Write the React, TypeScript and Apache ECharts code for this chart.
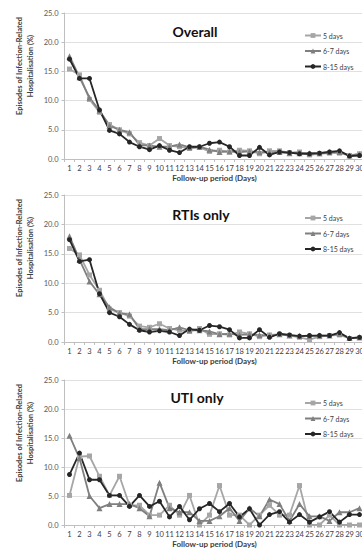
import React, { useEffect, useRef } from "react";
import * as echarts from "echarts";

const days = Array.from({ length: 30 }, (_, i) => String(i + 1));
const panelTitles = ["Overall", "RTIs only", "UTI only"];
const seriesNames = ["5 days", "6-7 days", "8-15 days"];
const yTicks = [0, 5, 10, 15, 20, 25];

const overall5 = [15.4, 14.4, 10.2, 8.0, 5.9, 5.0, 4.3, 2.8, 2.3, 3.5, 2.3, 2.1, 1.8, 2.0, 1.3, 1.5, 1.2, 1.5, 1.4, 0.9, 1.4, 1.4, 1.1, 1.2, 0.7, 0.9, 1.0, 1.0, 0.6, 0.9];
const overall67 = [17.6, 14.0, 10.5, 8.3, 5.7, 5.0, 4.6, 2.4, 2.3, 2.1, 2.1, 2.5, 2.0, 2.1, 1.6, 1.2, 1.3, 1.2, 1.3, 1.2, 1.1, 1.2, 1.0, 1.0, 1.0, 1.0, 1.2, 1.2, 0.6, 0.8];
const overall815 = [17.1, 13.8, 13.8, 8.4, 4.9, 4.3, 2.9, 2.1, 1.6, 2.3, 1.5, 1.1, 2.1, 2.1, 2.7, 2.9, 2.1, 0.6, 0.6, 2.0, 0.7, 1.2, 1.1, 0.9, 0.9, 1.0, 1.2, 1.4, 0.5, 0.6];

const rti5 = [15.9, 14.8, 11.4, 8.8, 5.6, 5.0, 4.4, 2.7, 2.5, 3.1, 2.3, 2.0, 1.8, 2.3, 1.3, 1.4, 1.2, 1.7, 1.4, 0.9, 1.2, 1.3, 1.1, 0.8, 0.4, 0.9, 1.1, 1.2, 0.6, 0.7];
const rti67 = [18.0, 14.0, 10.3, 8.1, 5.9, 4.9, 4.7, 2.2, 2.2, 2.2, 2.0, 2.5, 2.0, 2.0, 1.8, 1.3, 1.4, 1.2, 1.3, 1.2, 1.1, 1.3, 1.1, 1.0, 1.0, 1.1, 1.1, 1.4, 0.7, 0.8];
const rti815 = [17.4, 13.7, 14.0, 8.2, 5.0, 4.3, 3.0, 2.0, 1.7, 1.9, 1.7, 1.1, 2.2, 2.0, 2.8, 2.6, 2.1, 0.7, 0.7, 2.1, 0.8, 1.4, 1.2, 1.0, 1.1, 1.1, 1.1, 1.6, 0.6, 0.8];

const uti5 = [5.1, 11.8, 11.9, 8.4, 5.1, 8.4, 3.4, 3.4, 1.7, 1.7, 3.4, 1.7, 5.1, 0.0, 1.7, 6.8, 1.7, 1.7, 0.0, 1.7, 3.4, 1.7, 1.7, 6.8, 0.0, 0.0, 1.7, 0.0, 0.0, 0.0];
const uti67 = [15.4, 11.5, 5.0, 2.9, 3.6, 3.6, 3.6, 2.9, 1.5, 7.3, 2.9, 2.2, 2.2, 0.7, 0.7, 1.5, 2.9, 0.7, 2.9, 1.5, 4.4, 3.6, 0.7, 3.6, 1.5, 1.5, 0.7, 2.2, 2.2, 2.9];
const uti815 = [8.7, 12.4, 7.8, 7.8, 5.1, 5.1, 3.2, 5.1, 3.2, 4.1, 1.4, 3.2, 0.9, 2.8, 3.7, 2.3, 3.7, 1.4, 2.8, 0.0, 1.8, 2.3, 0.5, 1.8, 0.5, 1.4, 2.3, 0.5, 1.8, 1.8];

const panelData = [
  [overall5, overall67, overall815],
  [rti5, rti67, rti815],
  [uti5, uti67, uti815],
];

const FONT = "Lato, 'Open Sans', sans-serif";
const colors = ["#a6a6a6", "#7f7f7f", "#262626"];
const symbols = ["rect", "triangle", "circle"];
const symbolSizes = [5, 6, 5];

const gridTops = [13, 195, 380];
const gridHeights = [146, 147, 145];
const titlePos = [
  [195, 31],
  [201, 214],
  [197, 397],
];
const legendTops = [31, 213.5, 398.5];
const yTitleCenters = [66, 248, 433];

export default function App() {
  const ref = useRef<HTMLDivElement>(null);
  useEffect(() => {
    if (!ref.current) return;
    const chart = echarts.init(ref.current, undefined, { renderer: "svg" });
    const axisColor = "#bfbfbf";
    const grid = gridTops.map((t, i) => ({
      left: 64.5,
      top: t,
      width: 300,
      height: gridHeights[i],
      outerBoundsMode: "none",
    }));
    const xAxis = gridTops.map((_, i) => ({
      type: "category",
      gridIndex: i,
      data: days,
      boundaryGap: true,
      axisLine: { lineStyle: { color: axisColor } },
      axisTick: { show: true, length: 3, interval: 0, lineStyle: { color: axisColor } },
      axisLabel: { interval: 0, fontSize: 7.5, color: "#404040", margin: 5, fontFamily: FONT },
      name: "Follow-up period (Days)",
      nameLocation: "middle",
      nameGap: 15,
      nameTextStyle: { fontWeight: "bold", fontSize: 8, color: "#404040", fontFamily: FONT },
    }));
    const yAxis = gridTops.map((_, i) => ({
      type: "value",
      gridIndex: i,
      min: yTicks[0],
      max: yTicks[yTicks.length - 1],
      interval: 5,
      axisLine: { show: true, lineStyle: { color: axisColor } },
      axisTick: { show: true, length: 3, lineStyle: { color: axisColor } },
      axisLabel: {
        formatter: (v: number) => v.toFixed(1),
        fontSize: 7.5,
        color: "#595959",
        margin: 6,
        fontFamily: FONT,
      },
      splitLine: { lineStyle: { color: "#e0e0e0" } },
    }));
    const series: any[] = [];
    panelData.forEach((arrs, p) => {
      arrs.forEach((arr, s) => {
        series.push({
          type: "line",
          name: seriesNames[s],
          xAxisIndex: p,
          yAxisIndex: p,
          data: arr,
          symbol: symbols[s],
          symbolSize: symbolSizes[s],
          showSymbol: true,
          lineStyle: { color: colors[s], width: 1.8 },
          itemStyle: { color: colors[s] },
        });
      });
    });
    const legend = legendTops.map((t) => ({
      left: 304,
      top: t,
      orient: "vertical",
      padding: 0,
      itemWidth: 16,
      itemHeight: 6,
      itemGap: 6.5,
      data: seriesNames,
      selectedMode: false,
      textStyle: { fontSize: 7, color: "#404040", fontFamily: FONT, lineHeight: 9, padding: [0, 0, 0, -3] },
    }));
    const graphic: any[] = [];
    panelTitles.forEach((t, i) => {
      graphic.push({
        type: "text",
        x: titlePos[i][0],
        y: titlePos[i][1],
        style: {
          text: t,
          fontSize: 14,
          fontWeight: "bold",
          fontFamily: FONT,
          fill: "#111",
          align: "center",
          verticalAlign: "middle",
        },
      });
      graphic.push({
        type: "text",
        x: 19,
        y: yTitleCenters[i],
        rotation: Math.PI / 2,
        style: {
          text: "Episodes of Infection-Related",
          fontSize: 7.5,
          fontWeight: "bold",
          fontFamily: FONT,
          fill: "#404040",
          align: "center",
          verticalAlign: "middle",
        },
      });
      graphic.push({
        type: "text",
        x: 30,
        y: yTitleCenters[i],
        rotation: Math.PI / 2,
        style: {
          text: "Hospitalisation (%)",
          fontSize: 7.5,
          fontWeight: "bold",
          fontFamily: FONT,
          fill: "#404040",
          align: "center",
          verticalAlign: "middle",
        },
      });
    });
    chart.setOption({
      animation: false,
      backgroundColor: "#ffffff",
      grid,
      xAxis,
      yAxis,
      series,
      legend,
      graphic,
    } as any);
    return () => chart.dispose();
  }, []);
  return (
    <div
      style={{
        position: "fixed",
        left: 0,
        top: 0,
        width: 362,
        height: 549,
        overflow: "hidden",
        background: "#fff",
      }}
    >
      <div ref={ref} style={{ width: 370, height: 549 }} />
    </div>
  );
}
